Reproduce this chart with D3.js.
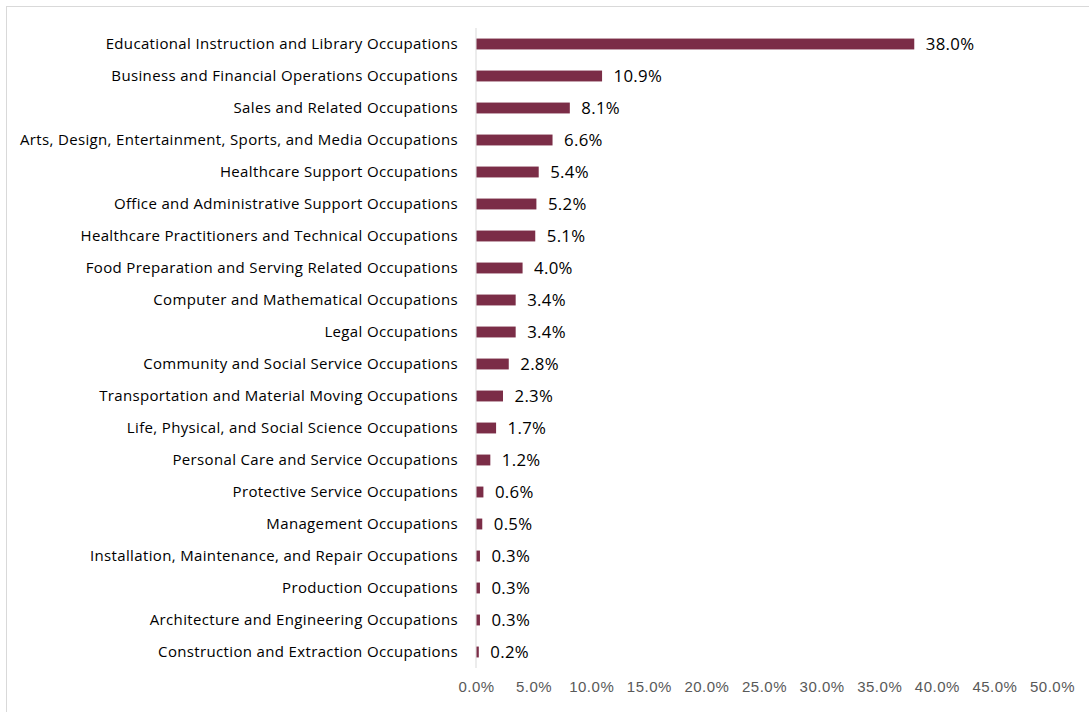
<!DOCTYPE html>
<html>
<head>
<meta charset="utf-8">
<script src="https://cdn.jsdelivr.net/npm/d3@7"></script>
<style>
  body { margin: 0; background: #fff; }
  svg { display: block; font-family: "Open Sans", Lato, sans-serif; }
  .cat { font-size: 15px; letter-spacing: 0.35px; fill: #000; }
  .val { font-size: 16.8px; letter-spacing: 0.3px; fill: #000; }
  .tick text { font-size: 15px; letter-spacing: 0.5px; fill: #595959; }
</style>
</head>
<body>
<svg class="chart" width="1089" height="712"></svg>
<script>
const categories = [
  "Educational Instruction and Library Occupations",
  "Business and Financial Operations Occupations",
  "Sales and Related Occupations",
  "Arts, Design, Entertainment, Sports, and Media Occupations",
  "Healthcare Support Occupations",
  "Office and Administrative Support Occupations",
  "Healthcare Practitioners and Technical Occupations",
  "Food Preparation and Serving Related Occupations",
  "Computer and Mathematical Occupations",
  "Legal Occupations",
  "Community and Social Service Occupations",
  "Transportation and Material Moving Occupations",
  "Life, Physical, and Social Science Occupations",
  "Personal Care and Service Occupations",
  "Protective Service Occupations",
  "Management Occupations",
  "Installation, Maintenance, and Repair Occupations",
  "Production Occupations",
  "Architecture and Engineering Occupations",
  "Construction and Extraction Occupations"
]
const values = [38.0, 10.9, 8.1, 6.6, 5.4, 5.2, 5.1, 4.0, 3.4, 3.4, 2.8, 2.3, 1.7, 1.2, 0.6, 0.5, 0.3, 0.3, 0.3, 0.2]
const tickValues = [0, 5, 10, 15, 20, 25, 30, 35, 40, 45, 50]

const data = categories.map((c, i) => ({ cat: c, v: values[i] }))

const svg = d3.select("svg.chart")

// outer chart border (right/bottom fall off the picture)
svg.append("rect")
  .attr("x", 6.5).attr("y", 6.5)
  .attr("width", 1100).attr("height", 720)
  .attr("fill", "none")
  .attr("stroke", "#d9d9d9")

const x = d3.scaleLinear()
  .domain([0, 50])
  .range([476, 1052])

const y = d3.scaleBand()
  .domain(categories)
  .range([28, 668])
  .paddingInner(0.66)
  .paddingOuter(0.33)

// vertical category axis line
svg.append("line")
  .attr("x1", x(0)).attr("x2", x(0))
  .attr("y1", 28).attr("y2", 668)
  .attr("stroke", "#d9d9d9")
  .attr("stroke-width", 1)

svg.selectAll("rect.bar")
  .data(data)
  .enter()
  .append("rect")
  .attr("class", "bar")
  .attr("x", x(0) + 0.5)
  .attr("y", d => y(d.cat))
  .attr("width", d => x(d.v) - x(0))
  .attr("height", y.bandwidth())
  .attr("fill", "#7b2d47")

svg.selectAll("text.cat")
  .data(data)
  .enter()
  .append("text")
  .attr("class", "cat")
  .attr("x", 458)
  .attr("y", d => y(d.cat) + y.bandwidth() / 2)
  .attr("dy", "0.35em")
  .attr("text-anchor", "end")
  .text(d => d.cat)

svg.selectAll("text.val")
  .data(data)
  .enter()
  .append("text")
  .attr("class", "val")
  .attr("x", d => x(d.v) + 12)
  .attr("y", d => y(d.cat) + y.bandwidth() / 2)
  .attr("dy", "0.37em")
  .text(d => d.v.toFixed(1) + "%")

const xAxis = d3.axisBottom(x)
  .tickValues(tickValues)
  .tickSize(0)
  .tickPadding(0)
  .tickFormat(d => d.toFixed(1) + "%")

svg.append("g")
  .attr("transform", "translate(0, 681)")
  .call(xAxis)
  .call(g => g.select(".domain").remove())
  .selectAll("text")
  .attr("font-family", null)
  .attr("dy", "0.71em")
</script>
</body>
</html>
